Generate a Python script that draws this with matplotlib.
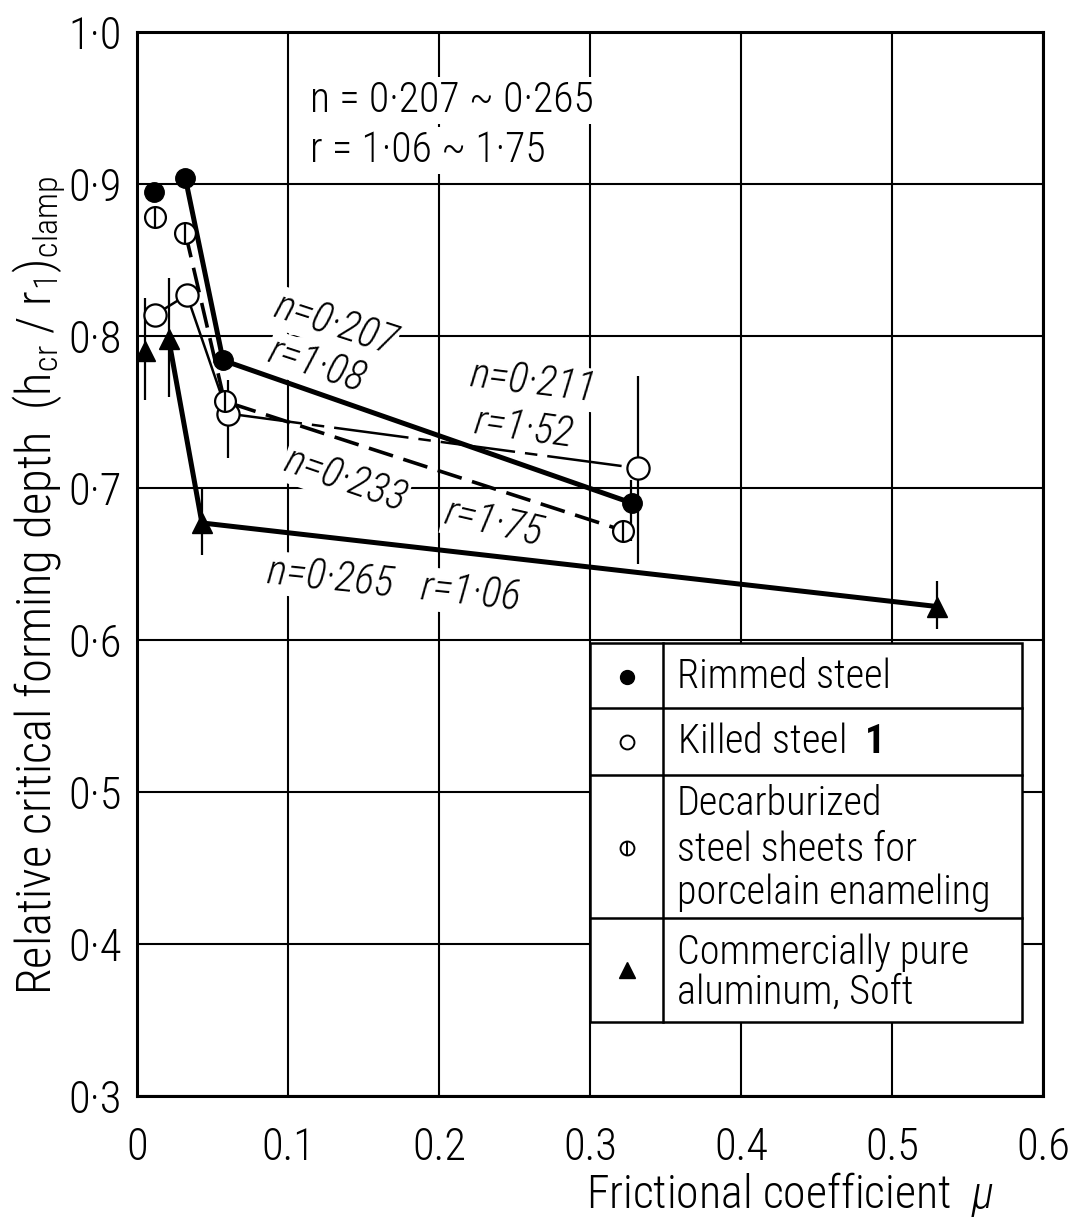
import matplotlib
matplotlib.use("Agg")
import matplotlib.pyplot as plt
from matplotlib.patches import Rectangle
from matplotlib.lines import Line2D

FONT = ["Roboto Condensed", "Archivo Narrow", "PT Sans Narrow", "DejaVu Sans"]
plt.rcParams["font.family"] = FONT
plt.rcParams["font.weight"] = "light"
plt.rcParams["mathtext.fontset"] = "custom"
plt.rcParams["mathtext.rm"] = "Roboto Condensed:light"
plt.rcParams["mathtext.it"] = "Roboto Condensed:italic:light"
plt.rcParams["mathtext.bf"] = "Roboto Condensed:bold"

# measured points: frictional coefficient vs relative critical forming depth
rimmed_mu = [0.011, 0.032, 0.057, 0.328]
rimmed_h = [0.895, 0.904, 0.784, 0.690]

killed_mu = [0.012, 0.033, 0.060, 0.332]
killed_h = [0.814, 0.827, 0.749, 0.713]

decarb_mu = [0.012, 0.032, 0.058, 0.322]
decarb_h = [0.878, 0.868, 0.757, 0.672]

alum_mu = [0.005, 0.021, 0.043, 0.530]
alum_h = [0.790, 0.798, 0.677, 0.622]

# scatter bands
err_mu = [0.005, 0.021, 0.043, 0.060, 0.332, 0.327, 0.530]
err_lo = [0.758, 0.760, 0.656, 0.720, 0.650, 0.665, 0.607]
err_hi = [0.825, 0.838, 0.700, 0.771, 0.774, 0.705, 0.639]

x_ticks = [0.0, 0.1, 0.2, 0.3, 0.4, 0.5, 0.6]
x_tick_labels = ["0", "0.1", "0.2", "0.3", "0.4", "0.5", "0.6"]
y_ticks = [0.3, 0.4, 0.5, 0.6, 0.7, 0.8, 0.9, 1.0]
y_tick_labels = ["0·3", "0·4", "0·5", "0·6", "0·7", "0·8", "0·9", "1·0"]

# curve labels: text, mu, depth, angle
curve_labels = [
    ("n=0·207", 0.131, 0.807, -18),
    ("r=1·08", 0.119, 0.780, -18),
    ("n=0·211", 0.262, 0.769, -7),
    ("r=1·52", 0.256, 0.739, -8),
    ("n=0·233", 0.138, 0.705, -19),
    ("r=1·75", 0.236, 0.677, -13),
    ("n=0·265   r=1·06", 0.170, 0.636, -6),
]

fig = plt.figure(figsize=(10.76, 12.25), dpi=100)
ax = fig.add_axes([0.1273, 0.1053, 0.842, 0.8686])
ax.set_xlim(0, 0.6)
ax.set_ylim(0.3, 1.0)
ax.set_xticks(x_ticks)
ax.set_xticklabels(x_tick_labels)
ax.set_yticks(y_ticks)
ax.set_yticklabels(y_tick_labels)
ax.tick_params(length=0, labelsize=32)
ax.tick_params(axis="x", pad=22)
ax.tick_params(axis="y", pad=11)
for s in ax.spines.values():
    s.set_linewidth(2.2)
ax.set_axisbelow(True)
ax.grid(True, color="black", linewidth=1.5)

# error bars
ax.vlines(err_mu, err_lo, err_hi, colors="black", linewidth=1.6, zorder=2)

# connecting curves
ax.plot(rimmed_mu[1:], rimmed_h[1:], color="black", linewidth=3.6, zorder=3)
ax.plot(decarb_mu[1:], decarb_h[1:], color="black", linewidth=2.6,
        dashes=(7, 3), zorder=3)
ax.plot(killed_mu[:3], killed_h[:3], color="black", linewidth=1.8, zorder=3)
ax.plot(killed_mu[2:], killed_h[2:], color="black", linewidth=1.8,
        dashes=(30, 4, 5, 4), zorder=3)
ax.plot(alum_mu[1:], alum_h[1:], color="black", linewidth=3.6, zorder=3)

# markers
ax.plot(rimmed_mu, rimmed_h, "o", ms=14, color="black", zorder=5)
ax.plot(killed_mu, killed_h, "o", ms=16, mfc="white", mec="black", mew=1.6, zorder=5)
ax.plot(decarb_mu, decarb_h, "o", ms=15, mfc="white", mec="black", mew=1.6, zorder=5)
ax.plot(decarb_mu, decarb_h, "|", ms=15, mec="black", mew=1.6, zorder=6)
ax.plot(alum_mu, alum_h, "^", ms=15, color="black", zorder=5)

# annotations
ax.text(0.1146, 0.955, "n = 0·207 ~ 0·265", fontsize=30, va="center", ha="left",
        bbox=dict(facecolor="white", edgecolor="none", pad=2), zorder=1)
ax.text(0.1146, 0.922, "r = 1·06 ~ 1·75", fontsize=30, va="center", ha="left",
        bbox=dict(facecolor="white", edgecolor="none", pad=2), zorder=1)
for txt, mx, my, ang in curve_labels:
    ax.text(mx, my, txt, fontsize=30, style="italic", rotation=ang,
            rotation_mode="anchor", ha="center", va="center",
            bbox=dict(facecolor="white", edgecolor="none", pad=1), zorder=1)

# axis titles
ax.text(-0.108, 0.48,
        r"Relative critical forming depth  (h$\mathregular{_{cr}}$ / r$\mathregular{_{1}}$)$\mathregular{_{clamp}}$",
        transform=ax.transAxes, rotation=90, fontsize=35, ha="center", va="center")
ax.text(0.72, -0.093, r"Frictional coefficient  $\mu$", transform=ax.transAxes,
        fontsize=33, ha="center", va="center", clip_on=False)

# legend table
tr = ax.transAxes
box_l, box_r, box_b, box_t = 0.500, 0.977, 0.0695, 0.426
ax.add_patch(Rectangle((box_l, box_b), box_r - box_l, box_t - box_b, transform=tr,
                       facecolor="white", edgecolor="black", linewidth=1.8, zorder=7))
for yy in [0.3647, 0.3017, 0.1673]:
    ax.add_line(Line2D([box_l, box_r], [yy, yy], transform=tr, color="black",
                       linewidth=1.8, zorder=8))
ax.add_line(Line2D([0.5806, 0.5806], [box_b, box_t], transform=tr, color="black",
                   linewidth=1.8, zorder=8))

mk_x = 0.541
ax.plot([mk_x], [0.394], "o", ms=10, color="black", transform=tr, zorder=9)
ax.plot([mk_x], [0.333], "o", ms=10, mfc="white", mec="black", mew=1.4, transform=tr, zorder=9)
ax.plot([mk_x], [0.233], "o", ms=10, mfc="white", mec="black", mew=1.4, transform=tr, zorder=9)
ax.plot([mk_x], [0.233], "|", ms=10, mec="black", mew=1.4, transform=tr, zorder=10)
ax.plot([mk_x], [0.118], "^", ms=11, color="black", transform=tr, zorder=9)

leg_text = [
    ("Rimmed steel", 0.394),
    (r"Killed steel  $\mathbf{1}$", 0.333),
    ("Decarburized", 0.275),
    ("steel sheets for", 0.231),
    ("porcelain enameling", 0.191),
    ("Commercially pure", 0.135),
    ("aluminum, Soft", 0.097),
]
for txt, yy in leg_text:
    ax.text(0.596, yy, txt, transform=tr, fontsize=29, ha="left", va="center", zorder=10)

fig.savefig("out.png", dpi=100, facecolor="white")
